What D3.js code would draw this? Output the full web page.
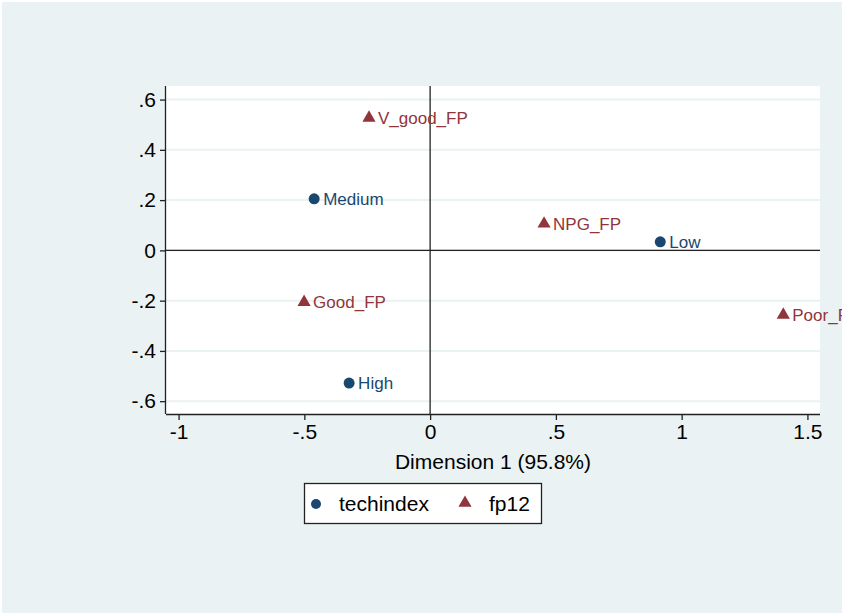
<!DOCTYPE html>
<html>
<head>
<meta charset="utf-8">
<style>
	body { margin: 0; background: #fff; }
	svg { display: block; font-family: "Liberation Sans", Arial, Helvetica, sans-serif; }
	.tick text { font-size: 21px; fill: #000; }
	.pt-label { font-size: 17px; }
</style>
</head>
<body>
<script src="https://d3js.org/d3.v7.min.js"></script>
<script>
	// techindex categories
	var techNames = ["Medium", "High", "Low"];
	var techX = [-0.461, -0.322, 0.915];
	var techY = [0.205, -0.528, 0.034];
	// fp12 categories
	var fpNames = ["V_good_FP", "Good_FP", "NPG_FP", "Poor_FP"];
	var fpX = [-0.243, -0.501, 0.453, 1.404];
	var fpY = [0.527, -0.206, 0.106, -0.257];

	var xTicks = [-1, -0.5, 0, 0.5, 1, 1.5];
	var yTicks = [0.6, 0.4, 0.2, 0, -0.2, -0.4, -0.6];
	var xTitle = "Dimension 1 (95.8%)";
	var legendNames = ["techindex", "fp12"];

	var navy = "#1a476f", maroon = "#90353b", bg = "#eaf2f3";
	var W = 842, H = 613;
	var plot = {left: 166, right: 820, top: 86, bottom: 414};

	// stata style: no leading zero, plain hyphen
	function fmt(d) { return String(d).replace(/^(-?)0\./, "$1."); }

	var svg = d3.select("body").append("svg")
		.attr("width", W)
		.attr("height", H);

	svg.append("rect")
		.attr("x", 2).attr("y", 2)
		.attr("width", W - 2).attr("height", H - 2)
		.attr("fill", bg);

	var x = d3.scaleLinear()
		.domain([-1.05, 1.55])
		.range([plot.left, plot.right]);
	var y = d3.scaleLinear()
		.domain([-0.651, 0.654])
		.range([plot.bottom, plot.top]);

	svg.append("rect")
		.attr("x", plot.left).attr("y", plot.top)
		.attr("width", plot.right - plot.left)
		.attr("height", plot.bottom - plot.top)
		.attr("fill", "#fff");

	// gridlines
	svg.append("g").selectAll("line")
		.data(yTicks)
		.enter().append("line")
			.attr("x1", plot.left).attr("x2", plot.right)
			.attr("y1", function(d) { return y(d); })
			.attr("y2", function(d) { return y(d); })
			.attr("stroke", bg)
			.attr("stroke-width", 2);

	// reference lines at zero
	svg.append("line")
		.attr("x1", x(0)).attr("x2", x(0))
		.attr("y1", plot.top).attr("y2", plot.bottom)
		.attr("stroke", "#222").attr("stroke-width", 1.3);
	svg.append("line")
		.attr("x1", plot.left).attr("x2", plot.right)
		.attr("y1", y(0)).attr("y2", y(0))
		.attr("stroke", "#222").attr("stroke-width", 1.3);

	// axes
	var xAxis = d3.axisBottom(x)
		.tickValues(xTicks)
		.tickSize(6)
		.tickPadding(4)
		.tickFormat(fmt);
	var gx = svg.append("g")
		.attr("transform", "translate(0," + plot.bottom + ")")
		.call(xAxis);
	gx.selectAll(".tick line").attr("stroke", "#222").attr("stroke-width", 1.3);

	var yAxis = d3.axisLeft(y)
		.tickValues(yTicks)
		.tickSize(6)
		.tickPadding(4)
		.tickFormat(fmt);
	var gy = svg.append("g")
		.attr("transform", "translate(" + plot.left + ",0)")
		.call(yAxis);
	gy.selectAll(".tick line").attr("stroke", "#222").attr("stroke-width", 1.3);

	gx.select(".domain").attr("stroke", "#222").attr("stroke-width", 1.3)
		.attr("d", "M" + plot.left + ",0.5H" + plot.right);
	gy.select(".domain").attr("stroke", "#222").attr("stroke-width", 1.3)
		.attr("d", "M-0.5," + plot.top + "V" + plot.bottom);

	svg.append("text")
		.attr("x", (plot.left + plot.right) / 2)
		.attr("y", 469)
		.attr("text-anchor", "middle")
		.attr("font-size", 21)
		.attr("fill", "#000")
		.text(xTitle);

	var tri = d3.symbol().type(d3.symbolTriangle).size(75);

	// techindex points
	var tech = svg.append("g").selectAll("g")
		.data(techNames)
		.enter().append("g")
			.attr("transform", function(d, i) { return "translate(" + x(techX[i]) + "," + y(techY[i]) + ")"; });
	tech.append("circle").attr("r", 5.5).attr("fill", navy);
	tech.append("text")
		.attr("class", "pt-label")
		.attr("x", 9).attr("y", 6)
		.attr("fill", navy)
		.text(function(d) { return d; });

	// fp12 points
	var fp = svg.append("g").selectAll("g")
		.data(fpNames)
		.enter().append("g")
			.attr("transform", function(d, i) { return "translate(" + x(fpX[i]) + "," + y(fpY[i]) + ")"; });
	fp.append("path").attr("d", tri).attr("fill", maroon);
	fp.append("text")
		.attr("class", "pt-label")
		.attr("x", 9).attr("y", 6)
		.attr("fill", maroon)
		.text(function(d) { return d; });

	// legend
	var lg = svg.append("g").attr("transform", "translate(304,483)");
	lg.append("rect")
		.attr("x", 0.5).attr("y", 0.5)
		.attr("width", 237).attr("height", 40)
		.attr("fill", "#fff")
		.attr("stroke", "#222").attr("stroke-width", 1.3);
	lg.append("circle").attr("cx", 12).attr("cy", 21).attr("r", 5).attr("fill", navy);
	lg.append("text").attr("x", 35).attr("y", 28).attr("font-size", 21).text(legendNames[0]);
	lg.append("path").attr("d", tri).attr("transform", "translate(161,20)").attr("fill", maroon);
	lg.append("text").attr("x", 185).attr("y", 28).attr("font-size", 21).text(legendNames[1]);
</script>
</body>
</html>
